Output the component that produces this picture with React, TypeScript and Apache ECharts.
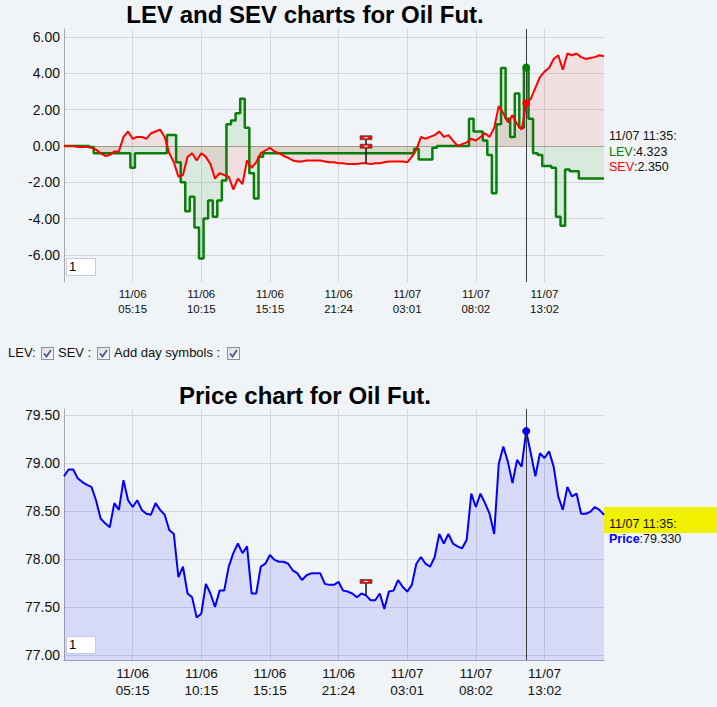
import React, { useEffect, useRef } from "react";
import * as echarts from "echarts";

// x axis: one point per sample, a labelled grid line every tickStep samples
const tickLabels = [
  "11/06\n05:15",
  "11/06\n10:15",
  "11/06\n15:15",
  "11/06\n21:24",
  "11/07\n03:01",
  "11/07\n08:02",
  "11/07\n13:02",
];
const tickStep = 15;

// crosshair + day symbol positions (sample index)
const cursorIndex = 101;
const cursorTime = "11/07 11:35";
const dayIndex = 66;

const lev = [
  0, 0, 0, 0, 0, 0, -0.05, -0.4, -0.4, -0.4,
  -0.4, -0.4, -0.4, -0.4, -0.4, -1.2, -0.4, -0.4, -0.4, -0.4,
  -0.4, -0.4, -0.4, 0.6, 0.6, -0.9, -2.0, -3.6, -2.8, -4.5,
  -6.2, -4.0, -3.0, -3.9, -3.0, -1.9, 1.2, 1.4, 1.8, 2.6,
  1.0, -1.5, -2.9, -0.6, -0.4, -0.4, -0.4, -0.4, -0.4, -0.4,
  -0.4, -0.4, -0.4, -0.4, -0.4, -0.4, -0.4, -0.4, -0.4, -0.4,
  -0.4, -0.4, -0.4, -0.4, -0.4, -0.4, -0.4, -0.4, -0.4, -0.4,
  -0.4, -0.4, -0.4, -0.4, -0.4, -0.4, -0.4, -0.15, -0.75, -0.75,
  -0.75, -0.1, 0, 0, 0, 0, 0, 0, 0, 1.5,
  0.8, 0.8, 0.3, -0.5, -2.6, 1.2, 4.3, 1.5, 0.5, 2.9,
  1.0, 4.323, 1.5, -0.4, -0.5, -1.1, -1.1, -1.2, -3.9, -4.4,
  -1.3, -1.4, -1.4, -1.8, -1.8, -1.8, -1.8, -1.8, -1.8,
];

const sev = [
  0, 0, 0, -0.05, -0.05, -0.05, -0.1, -0.2, -0.4, -0.55,
  -0.5, -0.3, -0.3, 0.5, 0.8, 0.4, 0.5, 0.5, 0.4, 0.7,
  0.8, 0.9, 0.5, -0.4, -0.9, -1.7, -1.6, -0.6, -0.4, -0.8,
  -0.4, -0.6, -1.0, -1.8, -1.5, -1.6, -1.7, -2.4, -1.8, -2.1,
  -0.8, -1.2, -0.9, -0.4, -0.25, -0.1, -0.3, -0.4, -0.55, -0.65,
  -0.8, -0.85, -0.85, -0.8, -0.8, -0.8, -0.8, -0.85, -0.9, -0.9,
  -0.95, -0.95, -1.0, -1.0, -1.0, -0.95, -0.95, -1.0, -0.95, -0.95,
  -0.9, -0.85, -0.85, -0.85, -0.85, -0.9, -0.6, -0.2, 0.5, 0.4,
  0.5, 0.6, 0.8, 0.5, 0.6, 0.3, 0.0, 0.1, 0.2, 0.4,
  0.3, 0.5, 0.7, 0.5, 1.0, 2.2, 1.8, 1.3, 1.7, 1.2,
  0.9, 2.35, 2.6, 3.2, 3.8, 4.1, 4.3, 4.8, 5.0, 4.2,
  5.1, 5.0, 5.1, 4.9, 4.8, 4.85, 4.9, 5.0, 4.95,
];

const price = [
  78.86, 78.93, 78.93, 78.84, 78.8, 78.77, 78.75, 78.61, 78.42, 78.37,
  78.33, 78.58, 78.51, 78.82, 78.61, 78.54, 78.61, 78.51, 78.47, 78.46,
  78.58, 78.51, 78.46, 78.3, 78.26, 77.81, 77.92, 77.64, 77.6, 77.39,
  77.43, 77.74, 77.64, 77.5, 77.67, 77.67, 77.92, 78.06, 78.16, 78.06,
  78.13, 77.64, 77.64, 77.92, 77.95, 78.04, 77.99, 77.97, 77.97, 77.95,
  77.88, 77.85, 77.78, 77.83, 77.85, 77.85, 77.85, 77.74, 77.73, 77.73,
  77.76, 77.67, 77.66, 77.64, 77.6, 77.64, 77.62, 77.57, 77.57, 77.64,
  77.48, 77.66, 77.67, 77.78, 77.71, 77.66, 77.73, 77.95, 78.02, 77.95,
  77.92, 78.02, 78.26, 78.16, 78.26, 78.16, 78.13, 78.11, 78.2, 78.68,
  78.54, 78.68, 78.58, 78.47, 78.26, 78.99, 79.17, 79.01, 78.79, 79.03,
  78.96, 79.33, 79.1, 78.86, 79.1, 79.05, 79.12, 78.96, 78.65, 78.51,
  78.75, 78.65, 78.68, 78.47, 78.47, 78.49, 78.54, 78.51, 78.46,
];

const categories = price.map((_, i) => String(i));

const FONT = '"Liberation Sans", Arial, sans-serif';
const GRID_COLOR = "#d3d6da";

const isTick = (i: number) => i > 0 && i % tickStep === 0;

const makeXAxis = (gridIndex: number, fontSize: number, lineHeight: number, margin: number, lineColor: string) => ({
  type: "category",
  gridIndex,
  data: categories,
  boundaryGap: false,
  axisLine: { lineStyle: { color: lineColor } },
  axisTick: { show: false },
  axisLabel: {
    interval: (i: number) => isTick(i),
    formatter: (_v: string, i: number) => tickLabels[i / tickStep - 1] ?? "",
    fontSize,
    lineHeight,
    margin,
    color: "#111",
  },
  splitLine: { show: true, interval: (i: number) => isTick(i), lineStyle: { color: GRID_COLOR } },
});

const makeYAxis = (gridIndex: number, min: number, max: number, splitNumber: number) => ({
  type: "value",
  gridIndex,
  min,
  max,
  splitNumber,
  axisLine: { show: true, lineStyle: { color: "#a9a9a9" } },
  axisTick: { show: false },
  axisLabel: {
    formatter: (v: number) => v.toFixed(2),
    showMinLabel: false,
    showMaxLabel: false,
    fontSize: 14,
    margin: 4,
    color: "#111",
  },
  splitLine: { lineStyle: { color: GRID_COLOR }, showMinLine: false, showMaxLine: false },
});

const crosshair = {
  silent: true,
  symbol: ["none", "none"],
  label: { show: false },
  lineStyle: { color: "#3a3a3a", width: 1, type: "solid" },
  data: [{ xAxis: cursorIndex }],
};

const dot = (value: number, color: string) => ({
  symbol: "circle",
  symbolSize: 8,
  silent: true,
  label: { show: false },
  itemStyle: { color },
  data: [{ coord: [cursorIndex, value] }],
});

// red flag(s) on a black stem, offsets are px above the anchor point
const daySymbol = (flags: number[]) => (_params: any, api: any) => {
  const [x, y] = api.coord([api.value(0), api.value(1)]);
  const top = Math.min(...flags);
  return {
    type: "group",
    children: [
      { type: "line", shape: { x1: x, y1: y, x2: x, y2: y + top + 2 }, style: { stroke: "#111", lineWidth: 1.5 } },
      ...flags.flatMap((o) => [
        { type: "rect", shape: { x: x - 6, y: y + o, width: 12, height: 4 }, style: { fill: "#ee1111", stroke: "#333", lineWidth: 0.6 } },
        { type: "rect", shape: { x: x - 2, y: y + o + 1.5, width: 4, height: 1 }, style: { fill: "#ffffff" } },
      ]),
    ],
  };
};

const text = (x: number, y: number, str: string, font: string, extra: any = {}) => ({
  type: "text",
  x,
  y,
  silent: true,
  style: { text: str, font, fill: "#000", textVerticalAlign: "middle", verticalAlign: "middle", ...extra },
});

const rich = {
  g: { fill: "#008000", fontSize: 12.5, fontFamily: FONT },
  r: { fill: "#ff0000", fontSize: 12.5, fontFamily: FONT },
  b: { fill: "#0000ff", fontSize: 12.5, fontFamily: FONT, fontWeight: "bold" },
  n: { fill: "#111", fontSize: 12.5, fontFamily: FONT },
};

const Checkbox: React.FC<{ left: number }> = ({ left }) => (
  <svg width={13} height={13} style={{ position: "absolute", left, top: 347 }}>
    <defs>
      <linearGradient id={`cb${left}`} x1="0" y1="0" x2="1" y2="1">
        <stop offset="0" stopColor="#d8d8d8" />
        <stop offset="1" stopColor="#ffffff" />
      </linearGradient>
    </defs>
    <rect x={0.5} y={0.5} width={12} height={12} fill={`url(#cb${left})`} stroke="#8e8f8f" />
    <polyline points="3,6.5 5.5,9.5 10,3" fill="none" stroke="#4a5a8a" strokeWidth={1.8} />
  </svg>
);

const InputBox: React.FC<{ top: number }> = ({ top }) => (
  <div
    style={{
      position: "absolute",
      left: 66,
      top,
      width: 26,
      height: 16,
      background: "#fff",
      border: "1px solid #c6c9e6",
      font: `13px ${FONT}`,
      lineHeight: "16px",
      paddingLeft: 2,
      color: "#000",
    }}
  >
    1
  </div>
);

const App: React.FC = () => {
  const chartRef = useRef<HTMLDivElement>(null);

  useEffect(() => {
    if (!chartRef.current) return;
    const chart = echarts.init(chartRef.current, undefined, { renderer: "svg" });

    const option: any = {
      animation: false,
      backgroundColor: "transparent",
      textStyle: { fontFamily: FONT },
      grid: [
        { left: 64, top: 29, width: 540, height: 253 },
        { left: 64, top: 409, width: 540, height: 251 },
      ],
      xAxis: [makeXAxis(0, 11.5, 14.5, 5, "#a9a9a9"), makeXAxis(1, 13.5, 16.5, 5.5, "#9a9ad2")],
      yAxis: [makeYAxis(0, -7.5, 6.45, 7), makeYAxis(1, 76.948, 79.56, 5)],
      series: [
        {
          name: "LEV",
          type: "line",
          xAxisIndex: 0,
          yAxisIndex: 0,
          data: lev,
          step: "middle",
          showSymbol: false,
          color: "#0a7d0a",
          lineStyle: { width: 2.5 },
          areaStyle: { color: "rgba(0,128,0,0.14)" },
          emphasis: { disabled: true },
          markLine: crosshair,
          markPoint: dot(lev[cursorIndex], "#0a7d0a"),
        },
        {
          name: "SEV",
          type: "line",
          xAxisIndex: 0,
          yAxisIndex: 0,
          data: sev,
          showSymbol: false,
          color: "#ff0000",
          lineStyle: { width: 2 },
          areaStyle: { color: "rgba(255,0,0,0.13)" },
          emphasis: { disabled: true },
          markPoint: dot(sev[cursorIndex], "#ff0000"),
        },
        {
          type: "custom",
          xAxisIndex: 0,
          yAxisIndex: 0,
          z: 5,
          silent: true,
          renderItem: daySymbol([-27.5, -19]),
          data: [[dayIndex, sev[dayIndex]]],
        },
        {
          name: "Price",
          type: "line",
          xAxisIndex: 1,
          yAxisIndex: 1,
          data: price,
          showSymbol: false,
          color: "#0000ff",
          lineStyle: { width: 2 },
          areaStyle: { color: "rgba(0,0,255,0.15)" },
          emphasis: { disabled: true },
          markLine: crosshair,
          markPoint: dot(price[cursorIndex], "#0000ff"),
        },
        {
          type: "custom",
          xAxisIndex: 1,
          yAxisIndex: 1,
          z: 5,
          silent: true,
          renderItem: daySymbol([-16]),
          data: [[dayIndex, price[dayIndex]]],
        },
      ],
      graphic: [
        text(305, 14.5, "LEV and SEV charts for Oil Fut.", `bold 24px ${FONT}`, { textAlign: "center", align: "center" }),
        text(305, 395.5, "Price chart for Oil Fut.", `bold 24px ${FONT}`, { textAlign: "center", align: "center" }),
        text(609, 135.5, `{n|${cursorTime}:}`, `12.5px ${FONT}`, { rich }),
        text(609, 151.5, `{g|LEV}{n|:${lev[cursorIndex].toFixed(3)}}`, `12.5px ${FONT}`, { rich }),
        text(609, 167, `{r|SEV}{n|:${sev[cursorIndex].toFixed(3)}}`, `12.5px ${FONT}`, { rich }),
        {
          type: "rect",
          silent: true,
          shape: { x: 604, y: 507, width: 113, height: 26 },
          style: { fill: "#f0f000" },
        },
        text(609, 523.5, `{n|${cursorTime}:}`, `12.5px ${FONT}`, { rich }),
        text(609, 539, `{b|Price}{n|:${price[cursorIndex].toFixed(3)}}`, `12.5px ${FONT}`, { rich }),
      ],
    };

    chart.setOption(option);
    return () => chart.dispose();
  }, []);

  const label = (left: number, str: string) => (
    <span style={{ position: "absolute", left, top: 345, font: `13px ${FONT}`, lineHeight: "16px", color: "#111", whiteSpace: "pre" }}>
      {str}
    </span>
  );

  return (
    <div style={{ position: "fixed", left: 0, top: 0, width: 717, height: 707, background: "#f0f4f7", overflow: "hidden" }}>
      <div ref={chartRef} style={{ position: "absolute", left: 0, top: 0, width: 717, height: 707 }} />
      <InputBox top={258} />
      <InputBox top={636} />
      {label(8, "LEV:")}
      <Checkbox left={41} />
      {label(58, "SEV :")}
      <Checkbox left={97} />
      {label(114, "Add day symbols :")}
      <Checkbox left={227} />
    </div>
  );
};

export default App;
